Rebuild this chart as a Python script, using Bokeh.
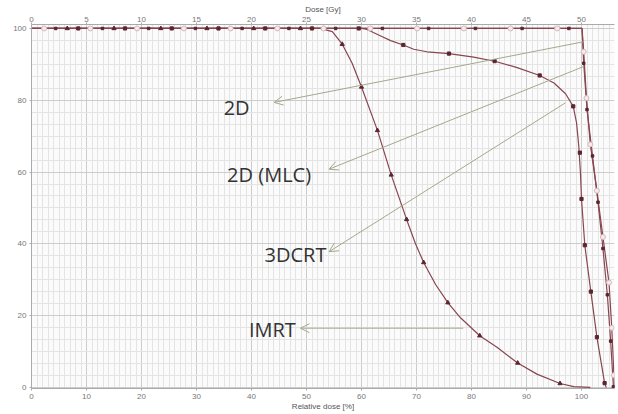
from bokeh.plotting import figure
from bokeh.models import Range1d, LinearAxis, FixedTicker, Arrow, OpenHead, Label
from bokeh.embed import file_html
from bokeh.resources import INLINE

# ---------------- data ----------------
rel_ticks = [0, 10, 20, 30, 40, 50, 60, 70, 80, 90, 100]
gy_ticks = [0, 5, 10, 15, 20, 25, 30, 35, 40, 45, 50]
vol_ticks = [0, 20, 40, 60, 80, 100]
x_title = "Relative dose [%]"
top_title = "Dose [Gy]"

# IMRT curve (relative dose %, volume %)
imrt_x = [0, 52.5, 54.7, 56.5, 58.3, 60.0, 62.9, 65.4, 68.2, 69.8, 71.3, 73.5, 75.7,
          78.0, 81.5, 84.7, 88.4, 91.9, 96.1, 98.6, 101.6]
imrt_y = [100, 100, 99.1, 95.6, 90.3, 83.7, 71.6, 59.2, 46.8, 40.1, 34.8, 28.6, 23.6,
          19.4, 14.4, 11.1, 6.8, 3.7, 1.1, 0.2, 0]
imrt_mx = [6.5, 15.0, 23.5, 31.9, 40.4, 48.9, 56.5, 60.0, 62.9, 65.4, 68.2, 71.3, 75.7,
           81.5, 88.4, 96.1]
imrt_my = [100, 100, 100, 100, 100, 100, 95.6, 83.7, 71.6, 59.2, 46.8, 34.8, 23.6,
           14.4, 6.8, 1.1]

# 3DCRT curve
crt_x = [0, 60.1, 61.0, 63.5, 65.3, 67.6, 69.5, 71.9, 75.9, 80.4, 84.4, 88.3, 92.4, 95.0,
         97.1, 98.5, 99.1, 99.5, 99.8, 100.0, 100.6, 101.7, 102.8, 104.2, 104.5]
crt_y = [100, 100, 99.7, 97.9, 96.6, 95.4, 94.2, 93.5, 93.0, 92.0, 90.8, 89.1, 86.9, 84.8,
         81.8, 78.3, 73.7, 67.3, 60.0, 52.5, 39.6, 26.7, 14.0, 1.2, 0]
crt_mx = [8.5, 17.0, 25.5, 34.0, 42.5, 51.0, 59.5, 67.6, 75.9, 84.2, 92.4, 98.5, 99.7,
          100.0, 100.6, 101.7, 102.8, 104.2]
crt_my = [100, 100, 100, 100, 100, 100, 100, 95.4, 93.0, 90.9, 86.9, 78.3, 65.4,
          52.5, 39.6, 26.7, 14.0, 1.2]

# 2D curve (open circle markers)
d2_x = [0, 100.1, 100.4, 100.9, 101.6, 102.8, 103.9, 105.0, 105.5, 105.9, 106.0]
d2_y = [100, 100, 93.5, 80.6, 67.7, 54.8, 41.9, 29.2, 16.6, 3.4, 0]
d2_mx = [2.3, 10.7, 19.2, 27.7, 36.2, 44.7, 53.1, 61.6, 70.1, 78.6, 87.1, 95.6,
         100.4, 100.9, 101.6, 102.8, 103.9, 105.0, 105.5, 105.9]
d2_my = [100, 100, 100, 100, 100, 100, 100, 100, 100, 100, 100, 100,
         93.5, 80.6, 67.7, 54.8, 41.9, 29.2, 16.6, 3.4]

# 2D (MLC) curve (small dark markers)
mlc_x = [0, 100.1, 100.4, 101.0, 102.0, 103.0, 103.9, 104.7, 105.3, 105.8, 105.85]
mlc_y = [100, 100, 90.3, 77.4, 64.5, 51.6, 38.7, 25.8, 12.9, 0.2, 0]
mlc_mx = [4.4, 12.9, 21.3, 29.8, 38.3, 46.8, 55.3, 63.8, 72.2, 80.7, 89.2, 97.7,
          100.4, 101.0, 102.0, 103.0, 103.9, 104.7, 105.3, 105.8]
mlc_my = [100, 100, 100, 100, 100, 100, 100, 100, 100, 100, 100, 100,
          90.3, 77.4, 64.5, 51.6, 38.7, 25.8, 12.9, 0.2]

# annotations
ann_text = ["2D", "2D (MLC)", "3DCRT", "IMRT"]
ann_x = [37.3, 43.2, 48.0, 43.8]
ann_y = [77.9, 59.4, 36.9, 16.1]
arrow_x0 = [100.4, 100.4, 97.1, 78.5]
arrow_y0 = [96.3, 89.4, 79.3, 16.5]
arrow_x1 = [44.1, 54.1, 54.1, 48.9]
arrow_y1 = [79.4, 60.8, 37.8, 16.5]

# ---------------- styling ----------------
LINE = "#874650"
MARK = "#5c2530"
ARROW = "#a3a88c"
TICKC = "#777777"

p = figure(width=616, height=413, x_range=Range1d(0, 106), y_range=Range1d(-0.3, 101.1),
           output_backend="svg", toolbar_location=None,
           min_border_left=31, min_border_right=2, min_border_top=24, min_border_bottom=22,
           background_fill_color="#fbfbfb", border_fill_color="white",
           outline_line_color=None)

p.extra_x_ranges = {"gy": Range1d(0, 53)}

minor_x = [i for i in range(0, 107) if i % 10 != 0]
minor_y = [i * 20 / 6 for i in range(0, 31) if i % 6 != 0]

xt = FixedTicker(ticks=rel_ticks, minor_ticks=minor_x)
yt = FixedTicker(ticks=vol_ticks, minor_ticks=minor_y)

p.below[0].ticker = xt
p.below[0].axis_label = x_title
p.left[0].ticker = yt
p.xgrid.ticker = xt
p.ygrid.ticker = yt
for g in (p.xgrid, p.ygrid):
    g.grid_line_color = "#cccccc"
    g.grid_line_width = 1
    g.minor_grid_line_color = "#e4e4e4"
    g.minor_grid_line_width = 1

top = LinearAxis(x_range_name="gy", ticker=FixedTicker(ticks=gy_ticks), axis_label=top_title)
p.add_layout(top, "above")

for ax in p.axis:
    ax.axis_line_color = "#aaaaaa"
    ax.major_tick_line_color = "#aaaaaa"
    ax.major_tick_out = 2
    ax.major_tick_in = 0
    ax.minor_tick_line_color = None
    ax.major_label_text_font = "Liberation Sans"
    ax.major_label_text_font_size = "8px"
    ax.major_label_text_color = TICKC
    ax.major_label_standoff = 1
    ax.axis_label_text_font = "Liberation Sans"
    ax.axis_label_text_font_size = "8px"
    ax.axis_label_text_font_style = "normal"
    ax.axis_label_text_color = "#555555"
    ax.axis_label_standoff = 0

# curves
for xs, ys in ((imrt_x, imrt_y), (crt_x, crt_y), (d2_x, d2_y), (mlc_x, mlc_y)):
    p.line(xs, ys, line_color=LINE, line_width=1.2)

p.scatter(d2_mx, d2_my, marker="circle", size=5, fill_color="#f4ecec",
          line_color="#d9b6ba", line_width=1)
p.scatter(mlc_mx, mlc_my, marker="square", size=2.5, fill_color=MARK, line_color=MARK)
p.scatter(crt_mx, crt_my, marker="square", size=3.2, fill_color=MARK, line_color=MARK)
p.scatter(imrt_mx, imrt_my, marker="triangle", size=4.2, fill_color=MARK, line_color=MARK)

# arrows and labels
for x0, y0, x1, y1 in zip(arrow_x0, arrow_y0, arrow_x1, arrow_y1):
    p.add_layout(Arrow(end=OpenHead(size=9, line_color=ARROW, line_width=1),
                       x_start=x0, y_start=y0, x_end=x1, y_end=y1,
                       line_color=ARROW, line_width=1))

for t, x, y in zip(ann_text, ann_x, ann_y):
    p.add_layout(Label(x=x, y=y, text=t, text_font="Open Sans", text_font_size="20px",
                       text_color="#333333", text_align="center", text_baseline="middle"))

open("out.html", "w").write(file_html(p, INLINE))
